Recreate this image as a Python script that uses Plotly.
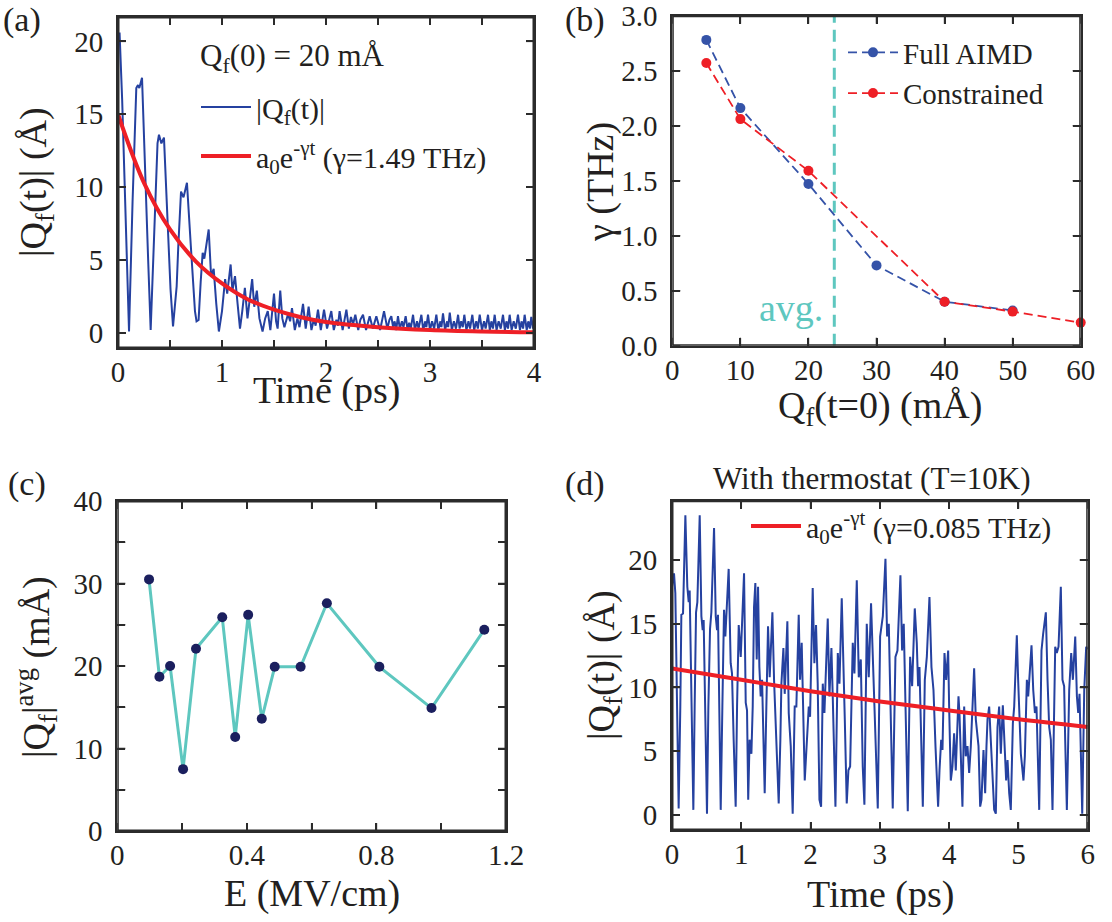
import plotly.graph_objects as go

W, H = 1112, 922
FONT = "Liberation Serif"
INK = "#231f20"
FRAME = "#2b2b2b"
BLUE = "#2541a0"
RED = "#ee1f26"
TEAL = "#5ec7bf"
NAVY = "#1b1f5e"

# ---------------- panel (a) data ----------------
t_a_early = [0.000, 0.015, 0.040, 0.070, 0.106, 0.140, 0.176, 0.192, 0.205, 0.231, 0.260, 0.290, 0.314,
             0.350, 0.380, 0.394, 0.417, 0.442, 0.470, 0.505, 0.529, 0.564, 0.580, 0.606, 0.630, 0.663,
             0.700, 0.740, 0.755, 0.775, 0.795, 0.814, 0.830, 0.872, 0.895, 0.920, 0.945, 0.970, 1.000,
             1.030, 1.050, 1.083, 1.100, 1.125, 1.150, 1.173, 1.195, 1.220, 1.245, 1.270, 1.290, 1.310,
             1.335, 1.360, 1.390, 1.415, 1.440, 1.465, 1.500, 1.520, 1.535, 1.560, 1.580]
q_a_early = [20.0, 20.6, 16.0, 8.0, 0.1, 9.0, 16.8, 17.0, 16.8, 17.5, 12.0, 5.0, 0.2,
             8.0, 13.0, 13.6, 13.0, 13.4, 9.0, 3.0, 0.45, 3.2, 6.0, 9.7, 9.3, 10.3,
             6.0, 1.5, 0.8, 0.9, 3.5, 5.5, 5.1, 7.1, 3.9, 4.4, 2.0, 0.1, 1.5,
             3.7, 2.7, 4.7, 2.9, 3.9, 2.0, 0.3, 1.5, 3.1, 1.0, 2.5, 3.7, 1.8,
             2.9, 1.0, 0.1, 1.0, 1.5, 0.2, 2.7, 0.8, 0.3, 2.9, 1.0]
t_a_tail = [1.600, 1.635, 1.655, 1.673, 1.700, 1.725, 1.745, 1.779, 1.805, 1.833, 1.860, 1.885, 1.900,
            1.923, 1.950, 1.981, 2.010, 2.030, 2.051, 2.075, 2.100, 2.115, 2.131, 2.160, 2.196, 2.220,
            2.240, 2.260, 2.282, 2.310, 2.330, 2.356, 2.385, 2.420, 2.450, 2.484, 2.520, 2.558, 2.590,
            2.610, 2.628, 2.645, 2.660, 2.675, 2.692, 2.710, 2.730, 2.745, 2.766, 2.785, 2.800, 2.815,
            2.837, 2.855, 2.875, 2.890, 2.917, 2.935, 2.955, 2.965, 2.981, 3.000, 3.020, 3.040, 3.061,
            3.080, 3.100, 3.110, 3.125, 3.145, 3.165, 3.175, 3.190, 3.210, 3.230, 3.250, 3.270, 3.285,
            3.300, 3.315, 3.330, 3.350, 3.370, 3.385, 3.407, 3.425, 3.445, 3.460, 3.478, 3.500, 3.520,
            3.535, 3.558, 3.575, 3.590, 3.605, 3.622, 3.640, 3.660, 3.680, 3.702, 3.720, 3.735, 3.750,
            3.766, 3.785, 3.805, 3.825, 3.846, 3.865, 3.880, 3.895, 3.910, 3.930, 3.945, 3.960, 3.974,
            3.990, 4.000]
q_a_tail = [0.4, 1.3, 0.8, 1.7, 0.2, 1.0, 0.4, 2.0, 0.3, 1.8, 0.2, 1.0, 0.5,
            1.6, 0.2, 1.6, 0.3, 1.0, 1.5, 0.2, 0.9, 0.5, 1.5, 0.2, 1.6, 0.3,
            1.1, 0.6, 1.25, 0.2, 0.9, 1.25, 0.2, 1.15, 0.3, 1.15, 0.2, 1.5, 0.3,
            0.9, 1.15, 0.4, 0.8, 0.2, 1.15, 0.3, 0.8, 0.4, 1.15, 0.2, 0.7, 0.3,
            1.25, 0.2, 0.8, 0.3, 1.25, 0.2, 0.8, 0.4, 1.25, 0.2, 0.8, 0.3, 1.25,
            0.2, 0.8, 0.4, 1.35, 0.2, 0.8, 0.4, 1.4, 0.2, 0.8, 0.3, 1.25, 0.3,
            0.8, 0.4, 1.25, 0.2, 0.8, 0.3, 1.25, 0.2, 0.8, 0.3, 1.25, 0.2, 0.8,
            0.3, 1.25, 0.2, 0.8, 0.3, 1.25, 0.2, 0.8, 0.3, 1.25, 0.2, 0.8, 0.3,
            1.25, 0.2, 0.8, 0.3, 1.25, 0.2, 0.8, 0.3, 1.25, 0.2, 0.8, 0.3, 1.1,
            0.3, 0.6]
t_a = t_a_early + t_a_tail
q_a = q_a_early + q_a_tail

t_fit_a = [0.0, 0.25, 0.5, 0.75, 1.0, 1.25, 1.5, 1.75, 2.0, 2.5, 3.0, 3.5, 4.0]
q_fit_a = [15.0, 10.3, 7.1, 4.9, 3.4, 2.3, 1.6, 1.1, 0.75, 0.4, 0.2, 0.1, 0.05]

# ---------------- panel (b) data ----------------
q0_full = [5, 10, 20, 30, 40, 50]
gamma_full = [2.78, 2.16, 1.47, 0.73, 0.40, 0.32]
q0_con = [5, 10, 20, 40, 50, 60]
gamma_con = [2.57, 2.06, 1.59, 0.40, 0.31, 0.21]
q_avg = 23.8

# ---------------- panel (c) data ----------------
E_field = [0.098, 0.130, 0.163, 0.203, 0.243, 0.324, 0.364, 0.404, 0.446, 0.486, 0.566, 0.647, 0.809, 0.970, 1.133]
q_favg = [30.5, 18.7, 20.0, 7.5, 22.1, 25.9, 11.4, 26.2, 13.6, 19.9, 19.9, 27.6, 19.9, 14.9, 24.4]

# ---------------- panel (d) data ----------------
t_d = [0.000, 0.029, 0.048, 0.067, 0.096, 0.120, 0.135, 0.159, 0.193, 0.221, 0.241, 0.255, 0.279, 0.308,
       0.327, 0.347, 0.366, 0.400, 0.424, 0.443, 0.457, 0.477, 0.505, 0.525, 0.549, 0.568, 0.607, 0.631,
       0.650, 0.664, 0.679, 0.703, 0.727, 0.751, 0.770, 0.785, 0.818, 0.847, 0.866, 0.890, 0.919, 0.939,
       0.963, 0.992, 1.040, 1.064, 1.083, 1.100, 1.120, 1.146, 1.165, 1.184, 1.203, 1.223, 1.242, 1.261,
       1.280, 1.300, 1.319, 1.338, 1.362, 1.386, 1.410, 1.449, 1.473, 1.492, 1.511, 1.540, 1.564, 1.579,
       1.608, 1.627, 1.665, 1.685, 1.714, 1.742, 1.771, 1.795, 1.829, 1.848, 1.872, 1.901, 1.916, 1.935,
       1.974, 1.993, 2.031, 2.055, 2.079, 2.103, 2.128, 2.152, 2.176, 2.200, 2.248, 2.272, 2.301, 2.320,
       2.359, 2.393, 2.417, 2.450, 2.474, 2.494, 2.522, 2.546, 2.571, 2.609, 2.633, 2.667, 2.696, 2.725,
       2.753, 2.777, 2.811, 2.840, 2.873, 2.898, 2.922, 2.970, 3.004, 3.043, 3.081, 3.105, 3.129, 3.148,
       3.186, 3.225, 3.254, 3.297, 3.321, 3.345, 3.369, 3.403, 3.437, 3.466, 3.504, 3.533, 3.552, 3.572,
       3.620, 3.649, 3.678, 3.716, 3.745, 3.774, 3.803, 3.841, 3.861, 3.885, 3.904, 3.933, 3.957, 3.986,
       4.000, 4.024, 4.048, 4.072, 4.096, 4.110, 4.135, 4.149, 4.168, 4.192, 4.217, 4.240, 4.265, 4.289,
       4.313, 4.337, 4.361, 4.385, 4.409, 4.424, 4.448, 4.467, 4.496, 4.520, 4.539, 4.554, 4.578, 4.602,
       4.626, 4.650, 4.674, 4.698, 4.722, 4.746, 4.775, 4.799, 4.823, 4.843, 4.867, 4.890, 4.920, 4.939,
       4.977, 4.996, 5.016, 5.035, 5.073, 5.093, 5.122, 5.141, 5.189, 5.214, 5.238, 5.261, 5.300, 5.333,
       5.357, 5.396, 5.420, 5.444, 5.468, 5.492, 5.531, 5.554, 5.579, 5.612, 5.636, 5.660, 5.675, 5.699,
       5.733, 5.762, 5.786, 5.820, 5.844, 5.863, 5.882, 5.902, 5.921, 5.950, 5.978, 6.000]
q_d = [17.9, 18.95, 17.4, 9.8, 0.5, 8.5, 15.7, 15.8, 23.5, 17.9, 16.7, 17.6, 9.8, 0.4,
       8.5, 15.9, 16.7, 23.5, 15.6, 14.5, 15.3, 8.5, 0.1, 8.5, 14.6, 15.9, 22.5, 15.6,
       14.5, 15.7, 9.0, 0.4, 8.5, 16.1, 14.0, 16.1, 19.3, 11.9, 11.1, 5.9, 0.65, 8.5,
       14.9, 12.4, 18.95, 8.8, 8.2, 1.2, 5.9, 4.8, 8.5, 16.3, 18.2, 12.2, 17.9, 11.6,
       9.3, 10.6, 5.9, 1.7, 8.5, 14.8, 10.8, 15.9, 10.6, 8.0, 5.6, 0.9, 5.9, 10.3,
       13.1, 9.5, 15.2, 8.0, 5.4, 0.1, 8.5, 8.5, 15.7, 10.6, 13.5, 5.9, 2.7, 4.6,
       8.5, 7.7, 17.8, 11.9, 14.9, 10.3, 1.2, 0.65, 10.3, 8.0, 15.4, 9.3, 13.1, 9.3,
       0.65, 12.7, 10.3, 17.0, 10.6, 7.5, 0.9, 3.5, 3.8, 13.5, 11.1, 18.4, 10.8, 12.2,
       3.8, 0.8, 15.0, 10.8, 16.6, 11.6, 8.5, 0.5, 14.0, 15.6, 20.1, 14.0, 15.0, 10.1,
       0.5, 12.4, 12.9, 18.8, 12.9, 15.0, 9.5, 0.3, 12.4, 10.1, 16.2, 13.5, 10.1, 11.6,
       0.65, 10.6, 12.4, 17.1, 11.6, 9.8, 5.4, 0.65, 3.5, 5.9, 5.1, 12.7, 10.6, 12.9,
       8.5, 2.7, 3.8, 6.4, 3.5, 5.9, 9.3, 8.0, 3.8, 0.65, 8.5, 4.6, 5.4, 3.3,
       5.4, 8.2, 11.5, 7.5, 6.4, 5.4, 0.65, 1.2, 5.1, 1.7, 5.4, 7.5, 8.5, 5.9,
       3.3, 0.4, 0.1, 6.9, 8.5, 4.8, 8.6, 4.8, 2.7, 4.3, 1.7, 0.4, 7.2, 8.5,
       14.1, 10.6, 8.0, 4.8, 2.7, 4.6, 10.6, 9.3, 13.3, 9.8, 8.0, 8.5, 0.4, 12.9,
       14.2, 15.9, 10.6, 6.9, 5.9, 0.4, 13.2, 12.7, 13.2, 17.9, 10.6, 10.1, 5.9, 0.4,
       9.8, 12.7, 10.6, 14.0, 9.3, 8.0, 9.5, 3.3, 0.1, 9.8, 13.2, 13.0]

t_fit_d = [0, 1, 2, 3, 4, 5, 6]
q_fit_d = [11.5, 10.6, 9.7, 8.9, 8.2, 7.5, 6.9]

# ---------------- tick definitions ----------------
xt_a = [0, 0.5, 1, 1.5, 2, 2.5, 3, 3.5, 4]
xl_a = ["0", " ", "1", " ", "2", " ", "3", " ", "4"]
yt_a = [0, 5, 10, 15, 20]
yl_a = ["0", "5", "10", "15", "20"]
xt_b = [0, 10, 20, 30, 40, 50, 60]
xl_b = ["0", "10", "20", "30", "40", "50", "60"]
yt_b = [0, 0.5, 1, 1.5, 2, 2.5, 3]
yl_b = ["0.0", "0.5", "1.0", "1.5", "2.0", "2.5", "3.0"]
xt_c = [0, 0.2, 0.4, 0.6, 0.8, 1.0, 1.2]
xl_c = ["0", " ", "0.4", " ", "0.8", " ", "1.2"]
yt_c = [0, 5, 10, 15, 20, 25, 30, 35, 40]
yl_c = ["0", " ", "10", " ", "20", " ", "30", " ", "40"]
xt_d = [0, 1, 2, 3, 4, 5, 6]
xl_d = ["0", "1", "2", "3", "4", "5", "6"]
yt_d = [0, 5, 10, 15, 20]
yl_d = ["0", "5", "10", "15", "20"]

rng_a = ([0, 4], [-1.03, 21.67])
rng_b = ([0, 60], [0, 3])
rng_c = ([0, 1.2], [0, 40])
rng_d = ([0, 6], [-1.18, 24.65])

# ---------------- figure ----------------
fig = go.Figure()

fig.add_trace(go.Scatter(x=t_a, y=q_a, mode="lines", line=dict(color=BLUE, width=2),
                         name="|Q<sub>f</sub>(t)|", xaxis="x", yaxis="y",
                         legend="legend", legendgroup="a1"))
fig.add_trace(go.Scatter(x=t_fit_a, y=q_fit_a, mode="lines", line=dict(color=RED, width=4, shape="spline"),
                         name="a<sub>0</sub>e<sup>-γt</sup> (γ=1.49 THz)", xaxis="x", yaxis="y",
                         legend="legend", legendgroup="a2"))

fig.add_trace(go.Scatter(x=[q_avg, q_avg], y=[0, 3], mode="lines",
                         line=dict(color=TEAL, width=3, dash="12px,7px"),
                         showlegend=False, xaxis="x2", yaxis="y2"))
fig.add_trace(go.Scatter(x=q0_full, y=gamma_full, mode="lines+markers",
                         line=dict(color="#3553a8", width=1.8, dash="9px,5px"),
                         marker=dict(color="#3553a8", size=10), cliponaxis=False,
                         name="Full AIMD", xaxis="x2", yaxis="y2", legend="legend2", legendgroup="b1"))
fig.add_trace(go.Scatter(x=q0_con, y=gamma_con, mode="lines+markers",
                         line=dict(color=RED, width=1.8, dash="9px,5px"),
                         marker=dict(color=RED, size=10), cliponaxis=False,
                         name="Constrained", xaxis="x2", yaxis="y2", legend="legend2", legendgroup="b2"))

fig.add_trace(go.Scatter(x=E_field, y=q_favg, mode="lines", line=dict(color=TEAL, width=3),
                         showlegend=False, xaxis="x3", yaxis="y3"))
fig.add_trace(go.Scatter(x=E_field, y=q_favg, mode="markers", marker=dict(color=NAVY, size=10),
                         showlegend=False, cliponaxis=False, xaxis="x3", yaxis="y3"))

fig.add_trace(go.Scatter(x=t_d, y=q_d, mode="lines", line=dict(color=BLUE, width=2),
                         showlegend=False, xaxis="x4", yaxis="y4"))
fig.add_trace(go.Scatter(x=t_fit_d, y=q_fit_d, mode="lines", line=dict(color=RED, width=4, shape="spline"),
                         name="a<sub>0</sub>e<sup>-γt</sup> (γ=0.085 THz)", xaxis="x4", yaxis="y4",
                         legend="legend3"))


def px(x):
    return x / W


def py(y):
    return 1 - y / H


# panel boxes in page pixels: left, right, top, bottom
BOX = {
    "": (118, 534, 17, 348),
    "2": (672.3, 1080.7, 15.7, 345.7),
    "3": (117.3, 506, 501, 831),
    "4": (672, 1087.7, 500.7, 830),
}

# frame and inward ticks of every panel, built from each axis's range and tick values
TL = 8
for k, (xr, yr), xt, yt in [("", rng_a, xt_a, yt_a), ("2", rng_b, xt_b, yt_b),
                            ("3", rng_c, xt_c, yt_c), ("4", rng_d, xt_d, yt_d)]:
    l, r, t, b = BOX[k]
    dx = TL / (r - l) * (xr[1] - xr[0])
    dy = TL / (b - t) * (yr[1] - yr[0])
    tx, ty = [], []
    for v in xt:
        tx += [v, v, None, v, v, None]
        ty += [yr[0], yr[0] + dy, None, yr[1] - dy, yr[1], None]
    for v in yt:
        tx += [xr[0], xr[0] + dx, None, xr[1] - dx, xr[1], None]
        ty += [v, v, None, v, v, None]
    fig.add_trace(go.Scatter(x=tx, y=ty, mode="lines", line=dict(color=FRAME, width=1.5, simplify=False),
                             showlegend=False, hoverinfo="skip", xaxis="x" + k, yaxis="y" + k))
    fig.add_trace(go.Scatter(x=[xr[0], xr[1], xr[1], xr[0], xr[0]], y=[yr[0], yr[0], yr[1], yr[1], yr[0]],
                             mode="lines", line=dict(color=FRAME, width=3, simplify=False), showlegend=False,
                             hoverinfo="skip", xaxis="x" + k, yaxis="y" + k))


def axis(**kw):
    d = dict(showline=True, linecolor=FRAME, linewidth=2, mirror="allticks", ticks="inside",
             ticklen=TL, tickwidth=1.5, tickcolor=FRAME, showgrid=False, zeroline=False,
             automargin=False, ticklabeloverflow="allow", layer="above traces",
             tickfont=dict(family=FONT, size=29, color=INK), tickmode="array")
    d.update(kw)
    return d


def xdom(k):
    l, r, t, b = BOX[k]
    return [px(l), px(r)]


def ydom(k):
    l, r, t, b = BOX[k]
    return [py(b), py(t)]


XOFF = -3
fig.update_layout(
    template="none",
    width=W, height=H, margin=dict(l=0, r=0, t=0, b=0, autoexpand=False),
    paper_bgcolor="white", plot_bgcolor="white", hovermode=False,
    font=dict(family=FONT, color=INK),
    xaxis=axis(domain=xdom(""), range=rng_a[0], anchor="y", tickvals=xt_a, ticktext=xl_a, ticklabelstandoff=XOFF),
    yaxis=axis(domain=ydom(""), range=rng_a[1], anchor="x", tickvals=yt_a, ticktext=yl_a, ticklabelstandoff=7),
    xaxis2=axis(domain=xdom("2"), range=rng_b[0], anchor="y2", tickvals=xt_b, ticktext=xl_b, ticklabelstandoff=XOFF),
    yaxis2=axis(domain=ydom("2"), range=rng_b[1], anchor="x2", tickvals=yt_b, ticktext=yl_b, ticklabelstandoff=7),
    xaxis3=axis(domain=xdom("3"), range=rng_c[0], anchor="y3", tickvals=xt_c, ticktext=xl_c, ticklabelstandoff=XOFF),
    yaxis3=axis(domain=ydom("3"), range=rng_c[1], anchor="x3", tickvals=yt_c, ticktext=yl_c, ticklabelstandoff=7),
    xaxis4=axis(domain=xdom("4"), range=rng_d[0], anchor="y4", tickvals=xt_d, ticktext=xl_d, ticklabelstandoff=XOFF),
    yaxis4=axis(domain=ydom("4"), range=rng_d[1], anchor="x4", tickvals=yt_d, ticktext=yl_d, ticklabelstandoff=7),
    legend=dict(x=px(196), y=py(81), xanchor="left", yanchor="top", bgcolor="rgba(0,0,0,0)",
                font=dict(family=FONT, size=30, color=INK), itemwidth=50, tracegroupgap=7,
                traceorder="grouped"),
    legend2=dict(x=px(843), y=py(27), xanchor="left", yanchor="top", bgcolor="rgba(0,0,0,0)",
                 font=dict(family=FONT, size=29, color=INK), itemwidth=50, tracegroupgap=0,
                 traceorder="grouped"),
    legend3=dict(x=px(746), y=py(500), xanchor="left", yanchor="top", bgcolor="rgba(0,0,0,0)",
                 font=dict(family=FONT, size=30, color=INK), itemwidth=50),
)

ann = []


def text(x, y, s, size=38, angle=0, color=INK, xanchor="center", yanchor="middle", xref="paper", yref="paper"):
    ann.append(dict(x=x, y=y, xref=xref, yref=yref, text=s, showarrow=False, textangle=angle,
                    xanchor=xanchor, yanchor=yanchor, font=dict(family=FONT, size=size, color=color)))


# panel labels
text(px(22), py(20), "(a)", size=34)
text(px(585), py(20), "(b)", size=34)
text(px(27), py(484), "(c)", size=34)
text(px(585), py(484), "(d)", size=34)
# legend header in (a)
text(px(198), py(58), "Q<sub>f</sub>(0) = 20 mÅ", size=31, xanchor="left")
# axis titles
text(px(36), py(182), "|Q<sub>f</sub>(t)| (Å)", angle=-90)
text(px(326), py(390), "Time (ps)")
text(px(600), py(182), "γ (THz)", angle=-90)
text(px(880), py(408), "Q<sub>f</sub>(t=0) (mÅ)")
text(px(36), py(667), "|Q<sub>f</sub>|<sup>avg</sup> (mÅ)", angle=-90)
text(px(312), py(893), "E (MV/cm)")
text(px(604), py(665), "|Q<sub>f</sub>(t)| (Å)", angle=-90)
text(px(880), py(894), "Time (ps)")
text(px(872), py(478), "With thermostat (T=10K)", size=31)
# avg. label in panel (b)
text(17.5, 0.34, "avg.", size=38, color=TEAL, xref="x2", yref="y2")

fig.update_layout(annotations=ann)

fig.write_html("out.html", config={"displayModeBar": False},
               post_script="document.body.style.margin='0px';")
